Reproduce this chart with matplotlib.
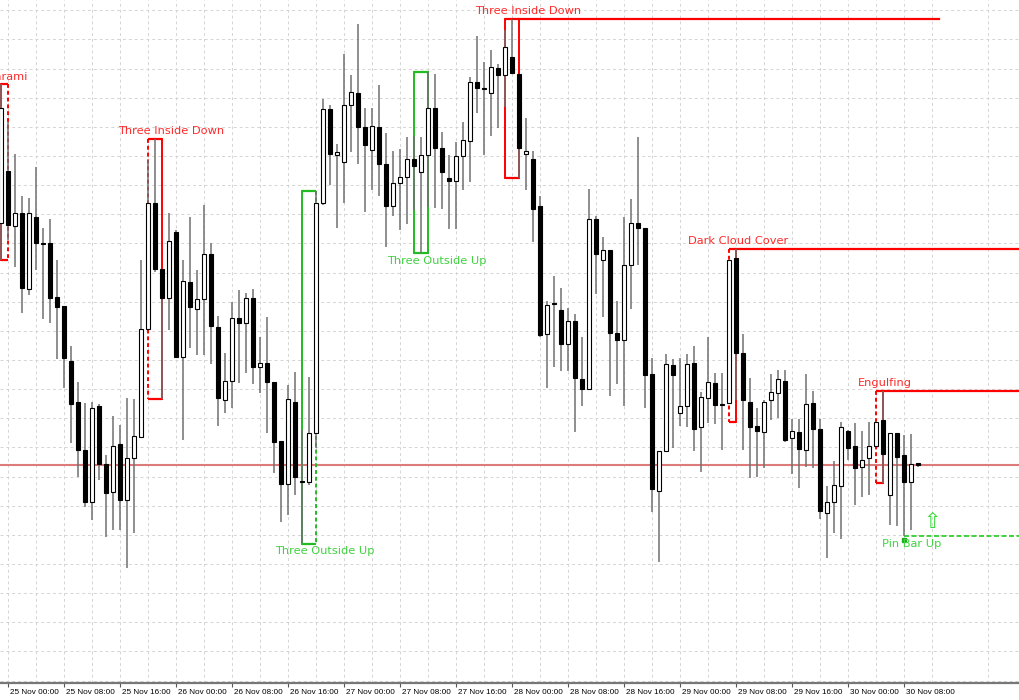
import matplotlib.pyplot as plt
import numpy as np
from matplotlib.transforms import ScaledTranslation

# H1 candles, first one is 24 Nov 23:00.
# No price scale is visible, so levels are measured downward from the chart top.
opens = [223, 171, 226, 213, 289, 217, 243, 243, 297, 306,
         361, 402, 450, 502, 406, 464, 492, 444, 500, 458,
         437, 329, 203, 269, 298, 232, 357, 282, 309, 299,
         254, 327, 400, 381, 318, 323, 298, 367, 363, 382,
         441, 484, 402, 481, 482, 433, 203, 109, 155, 162,
         105, 93, 127, 150, 127, 164, 206, 183, 177, 159,
         172, 155, 108, 148, 178, 181, 156, 141, 82, 88,
         93, 68, 75, 57, 74, 154, 159, 206, 334, 303,
         310, 344, 321, 379, 389, 219, 260, 250, 333, 340,
         265, 223, 228, 374, 491, 451, 365, 413, 406, 363,
         427, 398, 383, 404, 403, 258, 353, 402, 426, 432,
         400, 393, 381, 438, 432, 450, 403, 429, 513, 502,
         486, 431, 446, 467, 458, 446, 420, 495, 433, 455,
         482, 463]
highs = [84, 122, 154, 196, 198, 167, 228, 219, 260, 306,
         346, 382, 403, 402, 404, 455, 416, 425, 398, 399,
         260, 160, 139, 269, 213, 230, 260, 217, 270, 205,
         243, 316, 353, 302, 290, 293, 289, 337, 317, 382,
         441, 385, 372, 430, 377, 191, 99, 105, 144, 54,
         75, 24, 108, 108, 85, 133, 151, 149, 137, 136,
         137, 72, 74, 132, 155, 142, 122, 77, 36, 62,
         50, 64, 30, 19, 74, 118, 151, 196, 301, 276,
         288, 308, 314, 337, 189, 216, 237, 250, 301, 217,
         199, 137, 228, 358, 451, 354, 359, 358, 354, 346,
         392, 337, 373, 373, 260, 249, 334, 378, 408, 400,
         374, 370, 370, 419, 419, 374, 391, 419, 486, 461,
         422, 430, 423, 431, 422, 421, 391, 433, 433, 435,
         434, 463]
lows = [260, 240, 267, 313, 295, 270, 319, 323, 359, 388,
        443, 477, 507, 520, 480, 537, 530, 530, 568, 533,
        438, 330, 272, 399, 330, 358, 440, 348, 355, 355,
        364, 426, 413, 408, 383, 373, 384, 393, 433, 473,
        522, 515, 495, 543, 485, 448, 205, 185, 228, 203,
        152, 164, 212, 190, 196, 247, 216, 230, 224, 210,
        253, 207, 208, 209, 229, 229, 190, 182, 113, 155,
        136, 128, 107, 73, 178, 190, 242, 337, 388, 367,
        371, 371, 432, 406, 389, 294, 317, 396, 384, 406,
        309, 265, 408, 512, 562, 452, 448, 426, 427, 451,
        472, 423, 424, 450, 404, 400, 450, 478, 477, 468,
        420, 418, 442, 474, 488, 467, 468, 519, 558, 533,
        539, 460, 505, 497, 495, 447, 483, 525, 526, 536,
        530, 467]
closes = [108, 225, 213, 288, 213, 243, 244, 298, 307, 358,
          404, 450, 502, 408, 464, 493, 446, 500, 458, 436,
          329, 203, 269, 298, 241, 357, 281, 307, 299, 254,
          326, 398, 381, 318, 323, 298, 367, 363, 382, 442,
          484, 399, 477, 482, 433, 203, 109, 154, 152, 105,
          92, 127, 145, 126, 164, 206, 183, 177, 159, 166,
          155, 108, 148, 172, 181, 156, 140, 82, 88, 88.5,
          67, 75, 47, 73, 148, 151, 209, 335, 305, 303.5,
          344, 321, 378, 389, 219, 254, 250, 333, 340, 265,
          223, 228, 375, 489, 451, 364, 375, 406, 364, 429,
          397, 382, 405, 404.5, 260, 353, 400, 427, 431, 402,
          392, 379, 440, 431, 449, 404, 429, 511, 502, 485,
          427, 448, 468, 460, 446, 422, 454, 433, 457, 482,
          464, 465]

bid_level = 465

time_labels = ['25 Nov 00:00', '25 Nov 08:00', '25 Nov 16:00', '26 Nov 00:00',
               '26 Nov 08:00', '26 Nov 16:00', '27 Nov 00:00', '27 Nov 08:00',
               '27 Nov 16:00', '28 Nov 00:00', '28 Nov 08:00', '28 Nov 16:00',
               '29 Nov 00:00', '29 Nov 08:00', '29 Nov 16:00', '30 Nov 00:00',
               '30 Nov 08:00']
label_bars = [1, 9, 17, 25, 33, 41, 49, 57, 65, 73, 81, 89, 97, 105, 113, 121, 129]

# pattern boxes: name, first bar, last bar, top, bottom
pat_names = ['Harami', 'Three Inside Down', 'Three Outside Up', 'Three Outside Up',
             'Three Inside Down', 'Dark Cloud Cover', 'Engulfing']
pat_first = [0, 21, 43, 59, 72, 104, 125]
pat_last = [1, 23, 45, 61, 74, 105, 126]
pat_top = [84, 139, 191, 72, 19, 249, 391]
pat_bottom = [260, 399, 544, 253, 178, 422, 483]
pat_bull = [False, False, True, True, False, False, False]

pin_bar = 129
pin_level = 536

RED = '#ff0000'
RED_TXT = '#ff2a2a'
GREEN = '#22bb22'
GREEN_TXT = '#3fd23f'

o = np.array(opens, float)
h = np.array(highs, float)
l = np.array(lows, float)
c = np.array(closes, float)
x = np.arange(len(o))

fig = plt.figure(figsize=(10.2, 7), dpi=100)
ax = fig.add_axes([0, 17 / 700, 1, 683 / 700])
ax.set_xlim(-0.186, 145.53)
ax.set_ylim(683, 0)

# grid
ax.set_yticks(np.arange(10.3, 683, 29.14))
ax.set_xticks(label_bars)
ax.set_xticks(np.arange(5, 146, 8), minor=True)
ax.grid(True, which='both', color='#d4d4d4', linestyle=(0, (3, 3)), linewidth=0.7, zorder=0)
ax.set_axisbelow(True)
ax.tick_params(axis='y', left=False, labelleft=False)
ax.tick_params(axis='x', which='minor', length=0)
ax.tick_params(axis='x', which='major', length=3, width=0.8, color='#555555', pad=1)
ax.set_xticklabels(time_labels, fontsize=5.9, family='Liberation Sans', ha='left', color='black')
for lab in ax.get_xticklabels():
    lab.set_transform(lab.get_transform() + ScaledTranslation(1.5 / 100, 0, fig.dpi_scale_trans))
for s in ['left', 'right', 'top']:
    ax.spines[s].set_visible(False)
ax.spines['bottom'].set_color('#777777')
ax.spines['bottom'].set_linewidth(1.6)

# bid line
ax.axhline(bid_level, color='#dd7a7a', linewidth=1.5, zorder=1)

# pattern boxes and labels
left_dash = [False, True, False, False, False, True, True]
right_dash = [True, False, True, False, False, False, False]
label_at = [0.9, 24.2, 46.2, 62.2, 75.2, 105.2, 126.2]
for i, name in enumerate(pat_names):
    col = GREEN if pat_bull[i] else RED
    x0, x1 = pat_first[i], pat_last[i]
    t, b = pat_top[i], pat_bottom[i]
    ax.plot([x0, x1], [t, t], color=col, lw=1.6, zorder=2, solid_capstyle='butt')
    ax.plot([x0, x1], [b, b], color=col, lw=1.6, zorder=2, solid_capstyle='butt')
    ax.plot([x0, x0], [t, b], color=col, lw=1.4, zorder=2,
            linestyle=(0, (2, 1.5)) if left_dash[i] else '-')
    ax.plot([x1, x1], [t, b], color=col, lw=1.4, zorder=2,
            linestyle=(0, (2, 1.5)) if right_dash[i] else '-')
    if pat_bull[i]:
        ax.text(label_at[i], b + 7.5, name, color=GREEN_TXT, fontsize=8.2,
                ha='center', va='center', zorder=6, clip_on=True)
    else:
        ax.text(label_at[i], t - 7.5, name, color=RED_TXT, fontsize=8.2,
                ha='center', va='center', zorder=6, clip_on=True)

# level lines from the last bar of some patterns
ax.plot([pat_last[4], 134], [pat_top[4]] * 2, color=RED, lw=1.6, zorder=2)
ax.plot([pat_last[5], 150], [pat_top[5]] * 2, color=RED, lw=1.6, zorder=2)
ax.plot([pat_last[6], 150], [pat_top[6]] * 2, color=RED, lw=1.6, zorder=2)

# pin bar
ax.plot([pin_bar, 150], [pin_level, pin_level], color='#22cc22', lw=1.2,
        linestyle=(0, (3, 1.5)), zorder=2)
ax.plot([pin_bar], [pin_level + 4], marker='s', ms=2.5, color='#22aa22', zorder=6)
ax.text(pin_bar + 1.1, pin_level + 8, 'Pin Bar Up', color=GREEN_TXT, fontsize=8.2,
        ha='center', va='center', zorder=6)
ax.text(pin_bar + 4, pin_level - 14, '\u21e7', color='#33dd33', fontsize=15,
        ha='center', va='center', zorder=6)

# candles
ax.vlines(x, h, l, color='#707070', linewidth=1.1, zorder=3)
bull = c < o
body_top = np.minimum(o, c)
body_h = np.maximum(np.abs(o - c), 1.0)
ax.bar(x[bull], body_h[bull], bottom=body_top[bull], width=0.62,
       color='white', edgecolor='black', linewidth=0.8, zorder=4)
ax.bar(x[~bull], body_h[~bull], bottom=body_top[~bull], width=0.62,
       color='black', edgecolor='black', linewidth=0.8, zorder=4)

fig.savefig('out.png', dpi=100)
